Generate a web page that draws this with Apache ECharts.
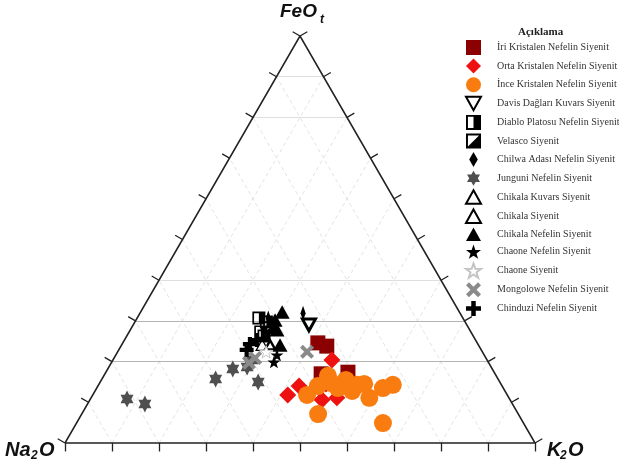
<!DOCTYPE html>
<html>
<head>
<meta charset="utf-8">
<script src="https://cdn.jsdelivr.net/npm/echarts@6/dist/echarts.min.js"></script>
<style>
  html, body { margin: 0; background: #fff; }
  #chart { width: 619px; height: 469px; }
</style>
</head>
<body>
<div id="chart"></div>
<script type="text/javascript">
// ternary values, each point is [Na2O, K2O, FeOt] in %
var iriKristalen = [[33.9,41.5,24.6],[32.4,43.8,23.8],[31.1,51.5,17.4],[37.0,46.0,17.0]];
var ortaKristalen = [[33.0,46.6,20.4],[46.7,41.5,11.8],[43.2,42.8,14.0],[40.0,49.4,10.6],[36.6,52.3,11.1],[37.2,48.3,14.5]];
var inceKristalen = [[35.8,47.7,16.5],[42.6,45.6,11.8],[39.2,46.8,14.0],[35.2,51.3,13.5],[32.5,52.0,15.5],[30.7,55.0,14.3],
  [29.1,56.4,14.5],[32.5,54.7,12.8],[29.7,59.2,11.1],[25.6,60.9,13.5],[23.1,62.6,14.3],[42.6,50.3,7.1],[29.9,65.2,4.9],[35.9,49.4,14.7]];
var davisDaglari = [[33.6,37.4,29.0]];
var diabloPlatosu = [[43.4,25.9,30.7],[42.3,28.0,29.7],[44.7,28.0,27.3]];
var velasco = [[42.3,29.4,28.3],[44.5,29.2,26.3]];
var chilwaAdasi = [[33.4,34.7,31.9],[41.4,27.9,30.7]];
var junguni = [[81.4,7.8,10.8],[78.2,12.2,9.6],[60.1,24.2,15.7],[55.2,26.6,18.2],[51.9,29.4,18.7],[51.4,33.6,15.0],[50.0,29.6,20.4]];
var chikalaKuvars = [[46.0,29.9,24.1]];
var chikalaSiyenit = [[44.3,31.6,24.1]];
var chikalaNefelin = [[37.7,30.1,32.2],[41.0,31.2,27.8],[42.2,33.7,24.1],[40.2,29.6,30.2]];
var chaoneNefelin = [[44.1,34.3,21.6],[45.6,34.5,19.9]];
var chaoneSiyenit = [[46.0,31.6,22.4]];
var mongolowe = [[49.1,30.0,20.9],[51.0,29.3,19.7],[37.3,40.3,22.4]];
var chinduzi = [[48.5,27.2,24.3],[46.5,28.2,25.3],[49.9,27.2,22.9]];

var tickSteps = [0,10,20,30,40,50,60,70,80,90,100];
var gridSteps = [10,20,30,40,50,60,70,80,90];
var feLightLevels = [40,80,90];
var feDarkLevels = [20,30];

var H = Math.sqrt(3) / 2;
var T = 0.018; // tick length in axis units

function toXY(p) {
  var s = p[0] + p[1] + p[2];
  var k = p[1] / s, fe = p[2] / s;
  return [k + fe / 2, fe * H];
}
function pts(arr) { return arr.map(toXY); }

var dashSegs = [], lightSegs = [], darkSegs = [], tickSegs = [];
gridSteps.forEach(function (t) {
  dashSegs.push({coords: [toXY([100 - t, t, 0]), toXY([0, t, 100 - t])]});
  dashSegs.push({coords: [toXY([t, 100 - t, 0]), toXY([t, 0, 100 - t])]});
});
feLightLevels.forEach(function (t) {
  lightSegs.push({coords: [toXY([100 - t, 0, t]), toXY([0, 100 - t, t])]});
});
feDarkLevels.forEach(function (t) {
  darkSegs.push({coords: [toXY([100 - t, 0, t]), toXY([0, 100 - t, t])]});
});
tickSteps.forEach(function (t) {
  var b = toXY([100 - t, t, 0]);
  tickSegs.push({coords: [b, [b[0], b[1] - T]]});
  var l = toXY([100 - t, 0, t]);
  tickSegs.push({coords: [l, [l[0] - T * H, l[1] + T / 2]]});
  var r = toXY([0, 100 - t, t]);
  tickSegs.push({coords: [r, [r[0] + T * H, r[1] + T / 2]]});
});
var frame = [toXY([100,0,0]), toXY([0,100,0]), toXY([0,0,100]), toXY([100,0,0])];

// all symbols as paths so legend icons keep their aspect
var square = 'path://M0,0 L10,0 L10,10 L0,10 Z';
var diamond = 'path://M5,0 L10,5 L5,10 L0,5 Z';
var upTri = 'path://M5,0 L10,9 L0,9 Z';
var halfSquare = 'path://M0,0 L10,0 L10,10 L0,10 Z M1.3,1.3 L1.3,8.7 L5,8.7 L5,1.3 Z';
var diagSquare = 'path://M0,0 L10,0 L10,10 L0,10 Z M1.3,1.3 L1.3,8.7 L8.7,1.3 Z';
var downTri = 'path://M0,0 L10,0 L5,9 Z';
var thinDiamond = 'path://M5,0 L9,7 L5,14 L1,7 Z';
var hexStar = 'path://M5,0 L9.33,7.5 L0.67,7.5 Z M5,10 L0.67,2.5 L9.33,2.5 Z';
var star5 = 'path://M5,0 L6.18,3.38 L9.76,3.45 L6.9,5.62 L7.94,9.05 L5,7 L2.06,9.05 L3.1,5.62 L0.24,3.45 L3.82,3.38 Z';
var cross = 'path://M0,2 L2,0 L5,3 L8,0 L10,2 L7,5 L10,8 L8,10 L5,7 L2,10 L0,8 L3,5 Z';
var plus = 'path://M3.5,0 L6.5,0 L6.5,3.5 L10,3.5 L10,6.5 L6.5,6.5 L6.5,10 L3.5,10 L3.5,6.5 L0,6.5 L0,3.5 L3.5,3.5 Z';

var groups = [
  {name: 'İri Kristalen Nefelin Siyenit', data: iriKristalen, symbol: square, size: 15, style: {color: '#8b0000'}},
  {name: 'Orta Kristalen Nefelin Siyenit', data: ortaKristalen, symbol: diamond, size: 17, style: {color: '#ee1111'}},
  {name: 'İnce Kristalen Nefelin Siyenit', data: inceKristalen, symbol: 'circle', size: 18, style: {color: '#f97c10'}},
  {name: 'Davis Dağları Kuvars Siyenit', data: davisDaglari, symbol: downTri, size: 13, style: {color: '#fff', borderColor: '#000', borderWidth: 3}},
  {name: 'Diablo Platosu Nefelin Siyenit', data: diabloPlatosu, symbol: halfSquare, size: 13, style: {color: '#000'}},
  {name: 'Velasco Siyenit', data: velasco, symbol: diagSquare, size: 13, style: {color: '#000'}},
  {name: 'Chilwa Adası Nefelin Siyenit', data: chilwaAdasi, symbol: thinDiamond, size: [9, 15], style: {color: '#000'}},
  {name: 'Junguni Nefelin Siyenit', data: junguni, symbol: hexStar, size: [15, 17], style: {color: '#4f4f4f'}},
  {name: 'Chikala Kuvars Siyenit', data: chikalaKuvars, symbol: upTri, size: 12, style: {color: '#fff', borderColor: '#000', borderWidth: 1.3}},
  {name: 'Chikala Siyenit', data: chikalaSiyenit, symbol: upTri, size: 10, style: {color: '#fff', borderColor: '#000', borderWidth: 2.4}},
  {name: 'Chikala Nefelin Siyenit', data: chikalaNefelin, symbol: upTri, size: 15, style: {color: '#000'}},
  {name: 'Chaone Nefelin Siyenit', data: chaoneNefelin, symbol: star5, size: 13, style: {color: '#000'}},
  {name: 'Chaone Siyenit', data: chaoneSiyenit, symbol: star5, size: 13, style: {color: '#fff', borderColor: '#c4c4c4', borderWidth: 1}},
  {name: 'Mongolowe Nefelin Siyenit', data: mongolowe, symbol: cross, size: 14, style: {color: '#8a8a8a'}},
  {name: 'Chinduzi Nefelin Siyenit', data: chinduzi, symbol: plus, size: 14, style: {color: '#000'}}
];

var series = [
  {type: 'lines', coordinateSystem: 'cartesian2d', silent: true, clip: false, data: dashSegs,
   lineStyle: {color: '#e3e3e3', width: 1, type: [4, 3], opacity: 1}},
  {type: 'lines', coordinateSystem: 'cartesian2d', silent: true, clip: false, data: lightSegs,
   lineStyle: {color: '#dedede', width: 1, opacity: 1}},
  {type: 'lines', coordinateSystem: 'cartesian2d', silent: true, clip: false, data: darkSegs,
   lineStyle: {color: '#b4b4b4', width: 1, opacity: 1}},
  {type: 'lines', coordinateSystem: 'cartesian2d', silent: true, clip: false, data: tickSegs,
   lineStyle: {color: '#222', width: 1.3, opacity: 1}},
  {type: 'line', silent: true, clip: false, data: frame, symbol: 'none',
   lineStyle: {color: '#222', width: 1.5}}
];
groups.forEach(function (g) {
  g.style.opacity = 1;
  series.push({
    name: g.name, type: 'scatter', data: pts(g.data),
    symbol: g.symbol, symbolSize: g.size, symbolKeepAspect: true, itemStyle: g.style
  });
});

var myChart = echarts.init(document.getElementById('chart'));
var option = {
  animation: false,
  grid: {left: 65, right: 84, top: 36, bottom: 26},
  xAxis: {type: 'value', min: 0, max: 1, show: false},
  yAxis: {type: 'value', min: 0, max: H, show: false},
  title: {
    text: 'Açıklama', left: 513, top: 22,
    textStyle: {fontFamily: 'Liberation Serif', fontWeight: 'bold', fontSize: 11, color: '#222'}
  },
  legend: {
    orient: 'vertical', left: 460, top: 35,
    itemWidth: 15, itemHeight: 15, itemGap: 3.6,
    selectedMode: false,
    data: groups.map(function (g) { return g.name; }),
    textStyle: {fontFamily: 'Liberation Serif', fontSize: 10, color: '#333', padding: [2, 0, 0, 11]}
  },
  graphic: [
    {type: 'text', left: 280, top: 2, style: {text: 'FeO', fontSize: 19, fontWeight: 'bold', fontStyle: 'italic', fontFamily: 'Liberation Sans', fill: '#111'}},
    {type: 'text', left: 320, top: 14, style: {text: 't', fontSize: 12, fontWeight: 'bold', fontStyle: 'italic', fontFamily: 'Liberation Sans', fill: '#111'}},
    {type: 'text', left: 5, top: 440, style: {text: 'Na', fontSize: 20, fontWeight: 'bold', fontStyle: 'italic', fontFamily: 'Liberation Sans', fill: '#111'}},
    {type: 'text', left: 31, top: 450, style: {text: '2', fontSize: 12, fontWeight: 'bold', fontStyle: 'italic', fontFamily: 'Liberation Sans', fill: '#111'}},
    {type: 'text', left: 39, top: 440, style: {text: 'O', fontSize: 20, fontWeight: 'bold', fontStyle: 'italic', fontFamily: 'Liberation Sans', fill: '#111'}},
    {type: 'text', left: 547, top: 440, style: {text: 'K', fontSize: 20, fontWeight: 'bold', fontStyle: 'italic', fontFamily: 'Liberation Sans', fill: '#111'}},
    {type: 'text', left: 560, top: 450, style: {text: '2', fontSize: 12, fontWeight: 'bold', fontStyle: 'italic', fontFamily: 'Liberation Sans', fill: '#111'}},
    {type: 'text', left: 568, top: 440, style: {text: 'O', fontSize: 20, fontWeight: 'bold', fontStyle: 'italic', fontFamily: 'Liberation Sans', fill: '#111'}}
  ],
  series: series
};
myChart.setOption(option);
</script>
</body>
</html>
